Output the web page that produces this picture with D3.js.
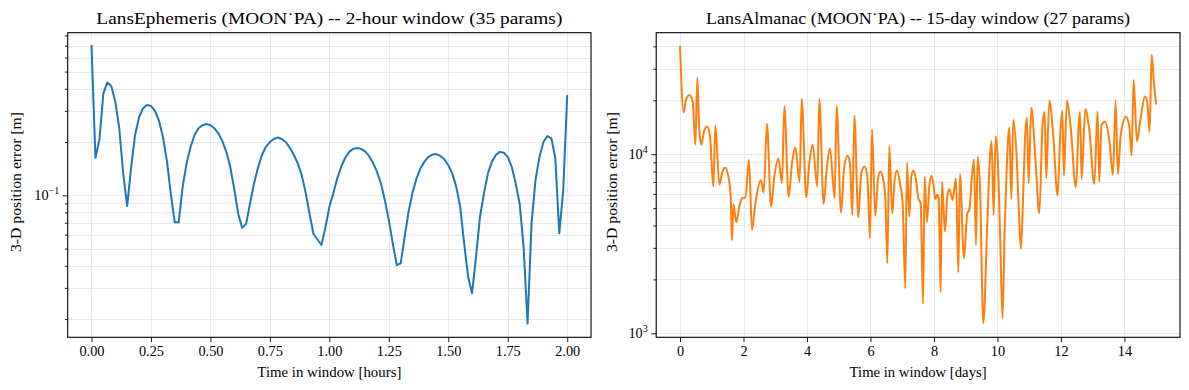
<!DOCTYPE html>
<html><head><meta charset="utf-8">
<script src="https://cdn.jsdelivr.net/npm/d3@7"></script>
<style>
body{margin:0;background:#fff}
svg text{font-family:"Liberation Serif","DejaVu Serif",serif;fill:#000}
</style>
</head><body>
<svg id="chart" width="1189" height="390"></svg>
<script>
// ---------- data ----------
const ephemTitle = "LansEphemeris (MOON˙PA) -- 2-hour window (35 params)";
const almanacTitle = "LansAlmanac (MOON˙PA) -- 15-day window (27 params)";
const ephemXLabel = "Time in window [hours]";
const almanacXLabel = "Time in window [days]";
const yLabel = "3-D position error [m]";

const ephemMinutes = d3.range(0, 121);            // 1-minute samples
const ephemHours = ephemMinutes.map(m => m / 60);
const ephemError = [
  0.706, 0.163, 0.206, 0.377, 0.434, 0.415, 0.339, 0.24, 0.133, 0.087,
  0.144, 0.22, 0.276, 0.31, 0.324, 0.32, 0.3, 0.265, 0.215, 0.158,
  0.1026, 0.0704, 0.0704, 0.112, 0.152, 0.188, 0.219, 0.239, 0.249, 0.253,
  0.249, 0.239, 0.224, 0.203, 0.176, 0.145, 0.109, 0.079, 0.0656, 0.069,
  0.090, 0.117, 0.143, 0.169, 0.188, 0.2, 0.208, 0.212, 0.208, 0.2,
  0.186, 0.17, 0.152, 0.131, 0.104, 0.079, 0.0605, 0.0563, 0.0524, 0.0656,
  0.086, 0.1026, 0.125, 0.145, 0.163, 0.176, 0.183, 0.185, 0.183, 0.177,
  0.167, 0.153, 0.136, 0.117, 0.094, 0.0725, 0.0535, 0.0404, 0.0413, 0.0584,
  0.081, 0.104, 0.125, 0.142, 0.155, 0.165, 0.170, 0.171, 0.167, 0.160,
  0.148, 0.133, 0.112, 0.0863, 0.0535, 0.0347, 0.028, 0.045, 0.0757, 0.1026,
  0.133, 0.155, 0.169, 0.176, 0.174, 0.165, 0.145, 0.117, 0.090, 0.051,
  0.0189, 0.0694, 0.122, 0.165, 0.2, 0.216, 0.21, 0.162, 0.061, 0.107,
  0.369
];

const almanacDays = [
  0, 0.115, 0.189, 0.294, 0.399, 0.483, 0.546, 0.609, 0.672, 0.756,
  0.85, 0.945, 1.05, 1.113, 1.239, 1.323, 1.417, 1.533, 1.596, 1.638,
  1.68, 1.774, 1.869, 1.953, 2.058, 2.173, 2.268, 2.373, 2.551, 2.635,
  2.74, 2.866, 2.971, 3.097, 3.213, 3.286, 3.423, 3.528, 3.633, 3.769,
  3.832, 3.979, 4.073, 4.178, 4.325, 4.388, 4.525, 4.619, 4.724,
  4.871, 4.934, 5.071, 5.165, 5.27, 5.354, 5.428, 5.491, 5.617, 5.711,
  5.816, 5.9, 5.984, 6.047, 6.152, 6.236, 6.31, 6.404, 6.467, 6.53,
  6.593, 6.688, 6.761, 6.835, 6.929, 7.013, 7.097, 7.15, 7.223, 7.286,
  7.36, 7.433, 7.507, 7.58, 7.654, 7.706, 7.78, 7.853, 7.916, 7.99,
  8.042, 8.105, 8.147, 8.21, 8.252, 8.346, 8.42, 8.483, 8.588, 8.693,
  8.766, 8.819, 8.945, 9.05, 9.113, 9.197, 9.26, 9.323, 9.375, 9.449,
  9.554, 9.68, 9.764, 9.816, 9.879, 9.942, 10.005, 10.079, 10.16,
  10.226, 10.289, 10.373, 10.436, 10.499, 10.604, 10.677, 10.74, 10.814, 10.866,
  10.929, 10.982, 11.066, 11.192, 11.318, 11.423, 11.486, 11.538, 11.633, 11.759,
  11.895, 11.979, 12.042, 12.094, 12.189, 12.304, 12.472, 12.556, 12.598, 12.651,
  12.766, 12.892, 13.05, 13.155, 13.207, 13.281, 13.386, 13.522, 13.638, 13.722,
  13.795, 13.879, 14.047, 14.152, 14.226, 14.289, 14.394, 14.488, 14.646, 14.72,
  14.793, 14.856, 14.929, 15.0
];
const almanacError = [
  40300, 17100, 20100, 21400, 19700, 11300, 26800, 13700, 11300, 13400,
  14300, 12600, 6590, 14500, 6750, 7830, 8430, 7350, 5790, 3300,
  5280, 4170, 5110, 5680, 5730, 9290, 3780, 5320, 7190, 6110,
  14800, 5110, 7500, 9460, 6890, 18600, 5790, 8910, 10900, 7030,
  20400, 5750, 8910, 11300, 6590, 20300, 5280, 8170, 10800,
  5680, 18600, 4720, 8170, 9800, 8910, 4580, 16400, 4450, 7830,
  8530, 7500, 3400, 13800, 4520, 7190, 8000, 7190, 5790, 2460,
  11100, 4650, 7190, 8110, 6890, 5320, 1780, 8970, 4490, 7500,
  8110, 7190, 5680, 5320, 1460, 7500, 4170, 6590, 7570, 6590,
  5610, 5930, 5680, 1690, 7030, 3700, 5790, 6370, 5560, 7350,
  2180, 7760, 2620, 4680, 4890, 7500, 9380, 3110, 9700, 6590,
  1140, 4120, 9700, 11800, 4580, 12600, 9700, 3780, 1210,
  3780, 8170, 14100, 5610, 15600, 9700, 4680, 2960, 6320, 12000,
  16000, 6890, 18200, 9700, 4680, 14900, 17200, 7350, 19900, 12600,
  5870, 13100, 17500, 7600, 19900, 14300, 6520, 14300, 17200, 7240,
  17900, 13700, 6820, 17300, 7030, 14600, 15200, 12000, 7670, 19900,
  7730, 12600, 16200, 14300, 9840, 26000, 11800, 14900, 21000, 19300,
  13300, 35900, 25000, 18900
];

const ephemXTicks = [0, 0.25, 0.5, 0.75, 1.0, 1.25, 1.5, 1.75, 2.0];
const almanacXTicks = [0, 2, 4, 6, 8, 10, 12, 14];
const ephemYMajor = [0.1];
const ephemYMinor = [0.02, 0.03, 0.04, 0.05, 0.06, 0.07, 0.08, 0.09, 0.2, 0.3, 0.4, 0.5, 0.6, 0.7, 0.8];
const almanacYMajor = [1000, 10000];
const almanacYMinor = [2000, 3000, 4000, 5000, 6000, 7000, 8000, 9000, 20000, 30000, 40000];

// ---------- drawing ----------
const svg = d3.select("#chart");
const plotTop = 32.7, plotBottom = 337.3;
const GRID = "#e4e4e4";

function supLabel(sel) {
  sel.each(function(d) {
    const t = d3.select(this);
    const e = Math.round(Math.log10(d));
    t.text(null);
    t.append("tspan").text("10");
    t.append("tspan").attr("dy", "-0.6em").attr("font-size", "10px")
      .text(e < 0 ? "\u2212" + (-e) : String(e));
  });
}

function panel(cfg) {
  const x = d3.scaleLinear().domain(cfg.xDomain).range([cfg.left, cfg.right]);
  const y = d3.scaleLog().domain(cfg.yDomain).range([plotBottom, plotTop]);
  const g = svg.append("g");

  const grid = g.append("g").attr("stroke", GRID).attr("stroke-width", 0.8);
  cfg.yMajor.concat(cfg.yMinor).forEach(v => {
    const yy = Math.round(y(v)) + 0.5;
    grid.append("line").attr("x1", cfg.left).attr("x2", cfg.right).attr("y1", yy).attr("y2", yy);
  });
  cfg.xTicks.forEach(v => {
    const xx = Math.round(x(v)) + 0.5;
    grid.append("line").attr("x1", xx).attr("x2", xx).attr("y1", plotTop).attr("y2", plotBottom);
  });

  const pts = cfg.xs.map((d, i) => [d, cfg.ys[i]]);
  g.append("path").datum(pts)
    .attr("fill", "none").attr("stroke", cfg.color).attr("stroke-width", 2)
    .attr("stroke-linejoin", "round").attr("stroke-linecap", "butt")
    .attr("d", d3.line().x(d => x(d[0])).y(d => y(d[1])).curve(cfg.curve));

  const xa = g.append("g").attr("transform", `translate(0,${plotBottom})`)
    .call(d3.axisBottom(x).tickValues(cfg.xTicks).tickFormat(cfg.xFmt).tickSize(4.9).tickPadding(3.6));
  const ya = g.append("g").attr("transform", `translate(${cfg.left},0)`)
    .call(d3.axisLeft(y).tickValues(cfg.yMajor).tickSize(4.9).tickPadding(3.6));
  ya.selectAll(".tick text").call(supLabel);
  const ym = g.append("g").attr("transform", `translate(${cfg.left},0)`)
    .call(d3.axisLeft(y).tickValues(cfg.yMinor).tickSize(2.8).tickFormat(""));
  [xa, ya, ym].forEach(a => {
    a.select(".domain").remove();
    a.selectAll("line").attr("stroke", "#000").attr("stroke-width", 0.9);
    a.selectAll("text").attr("font-family", "Liberation Serif, serif").attr("font-size", "14.3px").attr("fill", "#000");
  });

  g.append("rect").attr("x", cfg.left).attr("y", plotTop).attr("width", cfg.right - cfg.left)
    .attr("height", plotBottom - plotTop).attr("fill", "none").attr("stroke", "#000").attr("stroke-width", 1.1);

  const mid = (cfg.left + cfg.right) / 2;
  g.append("text").attr("x", mid).attr("y", 24.3).attr("text-anchor", "middle")
    .attr("font-size", "17.2px").attr("textLength", cfg.titleW).attr("lengthAdjust", "spacingAndGlyphs")
    .text(cfg.title);
  g.append("text").attr("x", mid).attr("y", 377).attr("text-anchor", "middle")
    .attr("font-size", "14.3px").attr("textLength", cfg.xLabelW).attr("lengthAdjust", "spacingAndGlyphs")
    .text(cfg.xLabel);
  g.append("text").attr("transform", `translate(${cfg.yLabelX},${(plotTop + plotBottom) / 2 - 3}) rotate(-90)`)
    .attr("text-anchor", "middle").attr("font-size", "14.3px").attr("textLength", 140).attr("lengthAdjust", "spacingAndGlyphs")
    .text(yLabel);
}

panel({
  left: 67.7, right: 591, xDomain: [-0.1, 2.1], yDomain: [0.01578, 0.829],
  xs: ephemHours, ys: ephemError, color: "#1f77b4", curve: d3.curveLinear,
  xTicks: ephemXTicks, xFmt: d3.format(".2f"), yMajor: ephemYMajor, yMinor: ephemYMinor,
  title: ephemTitle, titleW: 466, xLabel: ephemXLabel, xLabelW: 144, yLabelX: 20.5
});
panel({
  left: 656.2, right: 1180, xDomain: [-0.75, 15.75], yDomain: [950, 47700],
  xs: almanacDays, ys: almanacError, color: "#ff7f0e", curve: d3.curveMonotoneX,
  xTicks: almanacXTicks, xFmt: d3.format("d"), yMajor: almanacYMajor, yMinor: almanacYMinor,
  title: almanacTitle, titleW: 424, xLabel: almanacXLabel, xLabelW: 137, yLabelX: 617
});
</script>
</body></html>
